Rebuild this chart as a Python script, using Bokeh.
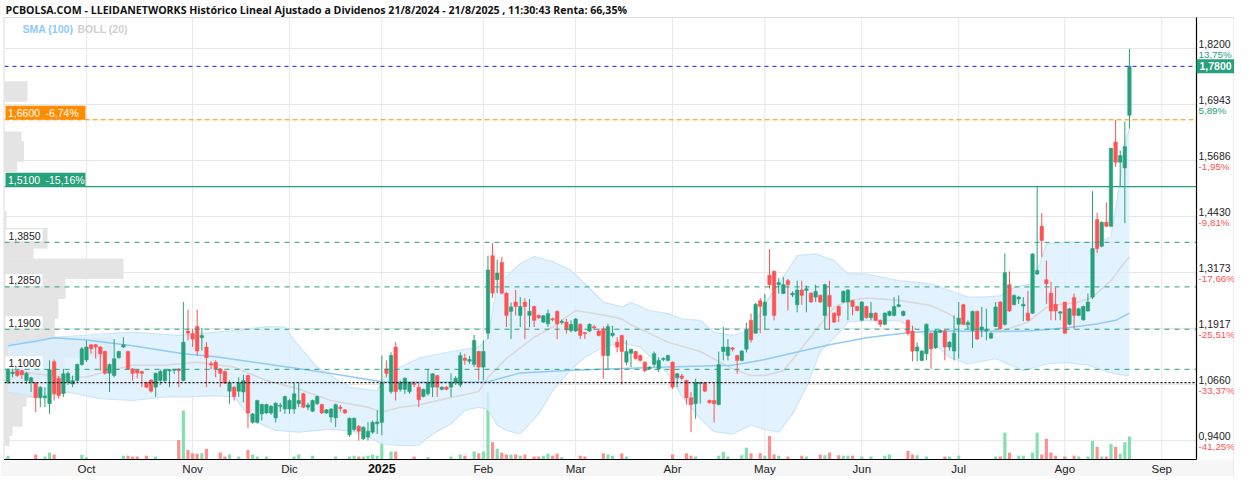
from bokeh.plotting import figure
from bokeh.models import ColumnDataSource, Range1d
from bokeh.core.properties import value
from bokeh.embed import file_html
from bokeh.resources import INLINE

# ---------------- data ----------------
opens = [
 1.071,1.090,1.097,1.097,1.075,1.071,1.070,1.036,1.036,1.023,
 1.117,1.080,1.046,1.071,1.067,1.075,1.111,1.121,1.155,1.155,
 1.150,1.140,1.091,1.086,1.126,1.150,1.140,1.101,1.098,1.095,
 1.070,1.076,1.060,1.075,1.075,1.096,1.098,1.101,1.075,1.186,
 1.180,1.196,1.171,1.150,1.112,1.116,1.101,1.095,1.051,1.060,
 1.051,1.049,1.086,0.981,0.981,1.000,1.002,1.002,0.991,1.017,
 1.011,1.011,1.011,1.023,1.045,1.015,1.006,1.023,1.021,1.002,
 0.993,0.991,1.015,1.009,0.953,0.965,0.972,0.944,0.948,0.959,
 0.978,0.981,1.101,1.050,1.150,1.055,1.055,1.050,1.068,1.060,
 1.039,1.045,1.060,1.086,1.055,1.060,1.060,1.070,1.065,1.125,
 1.118,1.111,1.140,1.105,1.181,1.355,1.301,1.340,1.271,1.230,
 1.251,1.221,1.251,1.221,1.241,1.221,1.206,1.202,1.213,1.230,
 1.205,1.206,1.187,1.186,1.201,1.181,1.186,1.195,1.186,1.191,
 1.131,1.176,1.161,1.176,1.116,1.136,1.140,1.131,1.116,1.101,
 1.111,1.101,1.122,1.120,1.116,1.081,1.085,1.075,1.036,1.023,
 1.068,1.070,1.030,1.030,1.021,1.140,1.131,1.148,1.131,1.120,
 1.145,1.210,1.181,1.254,1.221,1.311,1.320,1.290,1.270,1.299,
 1.267,1.245,1.278,1.277,1.271,1.262,1.266,1.221,1.266,1.226,
 1.241,1.251,1.251,1.254,1.241,1.210,1.241,1.216,1.226,1.210,
 1.201,1.221,1.221,1.241,1.221,1.210,1.186,1.141,1.120,1.135,
 1.181,1.148,1.183,1.186,1.150,1.141,1.201,1.245,1.200,1.187,
 1.230,1.188,1.186,1.170,1.196,1.251,1.201,1.290,1.245,1.258,
 1.242,1.226,1.226,1.314,1.421,1.301,1.271,1.246,1.226,1.251,
 1.201,1.261,1.221,1.211,1.231,1.262,1.436,1.376,1.430,1.421,
 1.610,1.565,1.552,1.670]
highs = [
 1.103,1.101,1.100,1.099,1.094,1.083,1.071,1.062,1.060,1.120,
 1.122,1.085,1.101,1.095,1.086,1.113,1.150,1.165,1.157,1.157,
 1.152,1.142,1.113,1.168,1.142,1.172,1.142,1.103,1.100,1.097,
 1.072,1.078,1.093,1.100,1.100,1.100,1.101,1.102,1.251,1.234,
 1.191,1.234,1.193,1.161,1.118,1.120,1.103,1.097,1.075,1.062,
 1.082,1.088,1.088,1.002,1.032,1.023,1.023,1.020,1.026,1.024,
 1.041,1.034,1.069,1.070,1.047,1.025,1.032,1.041,1.023,1.011,
 1.013,1.023,1.020,1.011,0.992,0.992,0.975,0.972,0.981,0.985,
 1.008,1.131,1.120,1.138,1.161,1.075,1.082,1.072,1.072,1.070,
 1.057,1.101,1.091,1.088,1.062,1.062,1.091,1.085,1.138,1.135,
 1.130,1.177,1.142,1.165,1.355,1.383,1.346,1.352,1.273,1.250,
 1.278,1.262,1.260,1.258,1.243,1.223,1.222,1.234,1.216,1.232,
 1.212,1.213,1.210,1.215,1.203,1.183,1.203,1.200,1.188,1.196,
 1.202,1.198,1.172,1.177,1.165,1.146,1.142,1.133,1.118,1.107,
 1.140,1.127,1.127,1.133,1.118,1.092,1.090,1.077,1.049,1.079,
 1.072,1.072,1.032,1.070,1.140,1.195,1.168,1.150,1.133,1.143,
 1.205,1.225,1.249,1.260,1.269,1.370,1.322,1.305,1.307,1.303,
 1.275,1.299,1.299,1.288,1.273,1.290,1.268,1.292,1.299,1.228,
 1.243,1.277,1.280,1.256,1.243,1.253,1.243,1.251,1.228,1.212,
 1.228,1.232,1.262,1.266,1.232,1.212,1.198,1.160,1.143,1.203,
 1.183,1.188,1.190,1.191,1.163,1.221,1.251,1.247,1.210,1.232,
 1.232,1.240,1.236,1.183,1.251,1.253,1.360,1.320,1.268,1.265,
 1.262,1.276,1.360,1.510,1.451,1.344,1.296,1.284,1.231,1.251,
 1.238,1.270,1.238,1.243,1.270,1.500,1.451,1.432,1.475,1.597,
 1.660,1.591,1.656,1.819]
lows = [
 1.067,1.082,1.083,1.078,1.067,1.049,1.004,1.015,1.015,1.000,
 1.030,1.035,1.038,1.065,1.060,1.072,1.108,1.116,1.135,1.124,
 1.097,1.088,1.049,1.082,1.124,1.148,1.099,1.075,1.080,1.060,
 1.058,1.048,1.038,1.065,1.070,1.060,1.090,1.060,1.073,1.165,
 1.150,1.131,1.142,1.060,1.100,1.082,1.060,1.067,1.023,1.030,
 1.038,1.026,0.968,0.978,0.978,0.985,1.000,0.998,0.981,1.005,
 1.000,1.000,1.000,1.015,1.013,1.008,1.004,1.020,1.000,1.000,
 0.981,0.970,1.005,1.000,0.948,0.961,0.940,0.942,0.940,0.955,
 0.955,0.952,1.082,1.045,1.030,1.050,1.045,1.045,1.060,1.015,
 1.037,1.041,1.038,1.038,1.053,1.053,1.038,1.065,1.060,1.110,
 1.112,1.105,1.075,1.075,1.168,1.260,1.271,1.268,1.195,1.168,
 1.221,1.195,1.168,1.195,1.195,1.213,1.204,1.195,1.208,1.168,
 1.200,1.180,1.183,1.184,1.168,1.168,1.184,1.188,1.174,1.079,
 1.101,1.172,1.138,1.066,1.109,1.105,1.122,1.118,1.094,1.099,
 1.105,1.094,1.118,1.118,1.056,1.060,1.075,1.021,0.959,0.989,
 1.023,1.049,1.023,0.981,1.019,1.120,1.120,1.140,1.090,1.118,
 1.138,1.160,1.180,1.181,1.189,1.281,1.210,1.270,1.269,1.232,
 1.262,1.228,1.245,1.228,1.249,1.251,1.249,1.189,1.189,1.204,
 1.206,1.249,1.210,1.221,1.230,1.208,1.214,1.210,1.208,1.195,
 1.199,1.219,1.219,1.239,1.219,1.176,1.118,1.118,1.118,1.120,
 1.101,1.146,1.181,1.120,1.142,1.120,1.124,1.199,1.190,1.148,
 1.166,1.172,1.165,1.168,1.195,1.189,1.198,1.229,1.244,1.247,
 1.208,1.208,1.224,1.312,1.352,1.247,1.210,1.210,1.210,1.180,
 1.199,1.191,1.219,1.209,1.229,1.258,1.361,1.374,1.419,1.419,
 1.554,1.510,1.428,1.640]
closes = [
 1.099,1.094,1.086,1.088,1.091,1.081,1.036,1.060,1.040,1.099,
 1.045,1.041,1.090,1.091,1.075,1.111,1.146,1.150,1.146,1.150,
 1.135,1.091,1.111,1.124,1.140,1.155,1.101,1.091,1.092,1.091,
 1.060,1.051,1.091,1.095,1.099,1.099,1.100,1.097,1.161,1.181,
 1.168,1.141,1.176,1.126,1.110,1.100,1.091,1.069,1.070,1.039,
 1.070,1.075,1.002,1.000,1.030,1.021,1.021,1.017,1.024,1.017,
 1.039,1.030,1.045,1.030,1.015,1.020,1.030,1.039,1.002,1.009,
 1.011,1.021,1.012,1.002,0.990,0.990,0.961,0.970,0.961,0.981,
 0.982,1.070,1.091,1.131,1.050,1.070,1.080,1.070,1.066,1.032,
 1.055,1.070,1.090,1.060,1.060,1.055,1.070,1.080,1.131,1.120,
 1.122,1.165,1.105,1.140,1.323,1.271,1.316,1.271,1.221,1.240,
 1.241,1.241,1.241,1.230,1.210,1.216,1.220,1.225,1.211,1.202,
 1.208,1.189,1.201,1.213,1.176,1.180,1.201,1.193,1.176,1.131,
 1.196,1.181,1.150,1.140,1.140,1.145,1.124,1.120,1.097,1.105,
 1.135,1.120,1.124,1.131,1.060,1.090,1.080,1.036,1.021,1.070,
 1.070,1.051,1.025,1.023,1.111,1.150,1.150,1.145,1.120,1.141,
 1.189,1.166,1.246,1.241,1.251,1.290,1.221,1.295,1.290,1.290,
 1.271,1.278,1.266,1.281,1.251,1.275,1.251,1.290,1.241,1.206,
 1.221,1.275,1.278,1.241,1.232,1.251,1.216,1.226,1.210,1.201,
 1.226,1.230,1.241,1.245,1.230,1.181,1.141,1.150,1.141,1.201,
 1.146,1.186,1.187,1.150,1.161,1.181,1.215,1.201,1.205,1.230,
 1.168,1.195,1.189,1.181,1.240,1.191,1.317,1.231,1.266,1.262,
 1.246,1.210,1.359,1.322,1.389,1.292,1.231,1.231,1.229,1.181,
 1.236,1.221,1.236,1.241,1.251,1.371,1.371,1.430,1.421,1.596,
 1.565,1.580,1.600,1.780]
volumes = [
 3.8,0,0,0,0,0,5,0,3,7,
 5,0,0,0,0,0,4.6,2.3,0,0,
 0,0,0,0,0,3.8,3.8,3,3,0,
 3.8,0,3,0,0,0,0,19.6,49,9.6,
 6.2,5.8,6.2,10.8,0,0,6.9,3,5,0,
 3,0,9.6,5,3,0,3,0,0,0,
 0,0,3,5,0,0,3.8,0,0,0,
 0,3,0,0,3,3.8,3,3,3.8,5,
 3.8,16.5,0,8,8,0,0,0,3,0,
 0,2.3,0,0,0,0,3,0,5,3.8,
 0,8,6.2,8,67,17.3,10.8,6.9,5,5,
 5,3.8,5,0,3,3,3.8,5.8,3.8,5.8,
 2.3,0,0,0,3.8,3,0,0,0,6.2,
 5,3.8,0,6.2,3,0,0,0,0,0,
 0,0,0,0,5,0,0,6.2,3.8,3,
 0,0,0,0,3.8,7.7,3,0,0,4.2,
 11.9,6.2,0,6.2,3.8,23.5,5,3.8,0,3,
 0,0,3.8,3,0,0,5,4.2,6.9,0,
 4.2,3.8,3.8,3.8,0,3,0,3,0,0,
 3.8,5,0,0,0,8.5,5,4.2,0,3,
 0,0,0,3,3,0,3.8,0,0,0,
 0,0,0,0,3,3,26.9,6.9,0,3.8,
 3.8,0,6.9,26.9,5,20.8,6.9,3.8,0,3,
 0,3.8,3,0,3,18.5,12.7,3,3,15.4,
 12.7,5.8,17.3,23]

# SMA(100) and Bollinger(20) read at points along the lines
sma_idx = [0, 6, 10, 17, 27, 38, 45, 56, 68, 81, 92, 104, 111, 122, 133, 143, 157, 164,
           171, 178, 186, 193, 200, 214, 221, 229, 236, 240, 243]
sma_val = [1.153, 1.163, 1.171, 1.166, 1.153, 1.135, 1.128, 1.112, 1.094, 1.072, 1.071,
           1.072, 1.092, 1.098, 1.102, 1.105, 1.109, 1.122, 1.139, 1.155, 1.171, 1.180,
           1.186, 1.185, 1.186, 1.193, 1.202, 1.210, 1.226]
bb_up_idx = [0, 10, 22, 27, 37, 49, 56, 60, 62, 67, 74, 80, 82, 89, 96, 102, 104, 106, 111,
             114, 118, 122, 125, 129, 133, 135, 139, 143, 146, 150, 153, 157, 161, 164, 168,
             171, 175, 179, 182, 186, 193, 197, 200, 204, 208, 211, 215, 218, 222, 223, 225,
             229, 236, 239, 241, 242, 243]
bb_up_val = [1.157, 1.172, 1.180, 1.183, 1.176, 1.187, 1.196, 1.195, 1.165, 1.105, 1.060,
             1.052, 1.090, 1.125, 1.140, 1.150, 1.170, 1.290, 1.337, 1.353, 1.342, 1.322,
             1.292, 1.251, 1.240, 1.250, 1.232, 1.225, 1.213, 1.210, 1.183, 1.176, 1.187,
             1.247, 1.307, 1.355, 1.359, 1.344, 1.314, 1.314, 1.299, 1.295, 1.292, 1.277,
             1.262, 1.262, 1.265, 1.284, 1.292, 1.318, 1.382, 1.385, 1.385, 1.397, 1.524,
             1.606, 1.640]
bb_lo_idx = [0, 6, 13, 20, 27, 34, 39, 45, 49, 53, 58, 63, 70, 75, 78, 81, 85, 89, 92, 96,
             99, 102, 104, 106, 108, 111, 115, 118, 122, 125, 129, 133, 137, 140, 143, 146,
             150, 153, 157, 161, 164, 167, 170, 173, 176, 179, 182, 186, 193, 197, 200, 204,
             208, 214, 220, 225, 229, 234, 238, 241, 243]
bb_lo_val = [1.049, 1.038, 1.049, 1.034, 1.030, 1.038, 1.038, 1.041, 1.038, 0.985, 0.963,
             0.959, 0.966, 0.960, 0.948, 0.933, 0.929, 0.930, 0.955, 0.978, 1.008, 1.015,
             1.010, 0.975, 0.963, 0.955, 1.000, 1.052, 1.100, 1.127, 1.150, 1.160, 1.150,
             1.120, 1.090, 1.040, 0.990, 0.960, 0.955, 0.975, 0.965, 0.959, 1.000, 1.060,
             1.140, 1.170, 1.206, 1.210, 1.209, 1.190, 1.165, 1.127, 1.112, 1.124, 1.097,
             1.112, 1.115, 1.110, 1.095, 1.088, 1.086]
bb_mid_idx = [0, 6, 13, 17, 22, 27, 34, 41, 49, 56, 63, 70, 78, 81, 85, 89, 96, 102, 104,
              108, 114, 118, 123, 129, 133, 135, 143, 150, 157, 161, 164, 168, 171, 175, 179,
              182, 186, 193, 200, 204, 208, 211, 215, 221, 225, 229, 232, 235, 239, 242, 243]
bb_mid_val = [1.100, 1.090, 1.082, 1.083, 1.097, 1.109, 1.109, 1.116, 1.105, 1.075, 1.056,
              1.030, 1.015, 1.004, 1.015, 1.020, 1.037, 1.050, 1.082, 1.124, 1.172, 1.195,
              1.232, 1.222, 1.213, 1.200, 1.161, 1.140, 1.101, 1.086, 1.086, 1.097, 1.135,
              1.187, 1.239, 1.254, 1.260, 1.255, 1.243, 1.224, 1.195, 1.190, 1.185, 1.206,
              1.239, 1.247, 1.251, 1.262, 1.299, 1.341, 1.352]

# volume-at-price profile (left side)
prof_price = [1.7235, 1.611, 1.589, 1.566, 1.432, 1.394, 1.371, 1.326, 1.302, 1.281, 1.259,
              1.237, 1.214, 1.192, 1.169, 1.149, 1.127, 1.104, 1.082, 1.059, 1.039, 1.017,
              0.994, 0.974, 0.951]
prof_vol = [23, 17, 19.5, 12.7, 2, 43, 29, 119, 40, 61, 42, 54, 50, 50, 50, 108, 35, 60,
            28, 35, 22, 12, 18, 8, 5]

month_idx = [17, 40, 61, 81, 103, 123, 144, 164, 185, 206, 229, 250]
month_lbl = ["Oct", "Nov", "Dic", "2025", "Feb", "Mar", "Abr", "May", "Jun", "Jul", "Ago", "Sep"]

ytick_vals = [1.8200, 1.6943, 1.5686, 1.4430, 1.3173, 1.1917, 1.0660, 0.9400]
ytick_lbl = ["1,8200", "1,6943", "1,5686", "1,4430", "1,3173", "1,1917", "1,0660", "0,9400"]
ytick_pct = ["13,75%", "5,89%", "-1,95%", "-9,81%", "-17,66%", "-25,51%", "-33,37%", "-41,25%"]

support_vals = [1.385, 1.285, 1.19, 1.10]
support_lbl = ["1,3850", "1,2850", "1,1900", "1,1000"]
last_price, last_lbl = 1.78, "1,7800"
orange_level, orange_lbl, orange_pct = 1.66, "1,6600", "-6,74%"
green_level, green_lbl, green_pct = 1.51, "1,5100", "-15,16%"
start_level = 1.07

title_txt = ("PCBOLSA.COM - LLEIDANETWORKS Histórico Lineal Ajustado a Dividenos "
             "21/8/2024 - 21/8/2025 , 11:30:43 Renta: 66,35%")

# ---------------- layout / styling ----------------
GREEN = "#26a17b"
RED = "#ff5252"
VGREEN = "#82dfb0"
VRED = "#ff8f8f"
ORANGE = "#ff8c00"
FONT = "Liberation Sans"
W, H = 1234, 476
K = 4.615        # pixels per trading day
XOFF = 7.5       # pixel x of first candle
PY = 445.6       # pixels per price unit


def ix(px):      # canvas pixel x -> index coordinate
    return (px - XOFF) / K


def py(px):      # canvas pixel y (from top) -> price coordinate
    return 1.82 + (48 - px) / PY


CH_L, CH_R = ix(4), ix(1196)
CH_T, CH_B = py(17), py(459)

p = figure(width=W, height=H, output_backend="svg", toolbar_location=None,
           x_range=Range1d(ix(0), ix(W)), y_range=Range1d(py(H), py(0)),
           x_axis_location=None, y_axis_location=None, min_border=0)
p.min_border_left = p.min_border_right = p.min_border_top = p.min_border_bottom = 0
p.outline_line_color = None
p.background_fill_color = "white"
p.border_fill_color = "white"
p.extra_y_ranges = {"vol": Range1d(-(H - 459), 459)}
p.grid.visible = False

# bottom label band
p.quad(left=[ix(0)], right=[ix(W)], bottom=[py(H)], top=[CH_B], fill_color="#f6f6f6",
       line_color=None)

# grid lines
p.segment(x0=[CH_L] * len(ytick_vals), x1=[CH_R] * len(ytick_vals), y0=ytick_vals, y1=ytick_vals,
          line_color="#e7e7e7", line_width=1)
p.segment(x0=month_idx, x1=month_idx, y0=[CH_B] * len(month_idx), y1=[CH_T] * len(month_idx),
          line_color="#e7e7e7", line_width=1)

# volume profile
prof_src = ColumnDataSource(dict(y=prof_price, right=[CH_L + v / K for v in prof_vol]))
p.hbar(y="y", left=CH_L, right="right", height=20.5 / PY, source=prof_src,
       fill_color="#e4e4e4", line_color=None)

# candles + volume
n = len(opens)
idx = list(range(n))
is_up = [c >= o for o, c in zip(opens, closes)]
bot = [min(o, c) for o, c in zip(opens, closes)]
top = [max(max(o, c), b + 0.0025) for o, c, b in zip(opens, closes, bot)]
src = ColumnDataSource(dict(
    x=idx, h=highs, l=lows, top=top, bot=bot, vol=volumes,
    col=[GREEN if u else RED for u in is_up],
    vcol=[VGREEN if u else VRED for u in is_up]))
p.vbar(x="x", width=0.68, top="vol", bottom=0, y_range_name="vol", source=src,
       fill_color="vcol", line_color=None)

# Bollinger band + SMA
band_x = bb_up_idx + bb_lo_idx[::-1]
band_y = bb_up_val + bb_lo_val[::-1]
p.patch(band_x, band_y, fill_color="#dcefff", fill_alpha=0.8, line_color=None)
p.line(bb_up_idx, bb_up_val, line_color="#cde5f8", line_width=1.2)
p.line(bb_lo_idx, bb_lo_val, line_color="#cde5f8", line_width=1.2)
p.line(bb_mid_idx, bb_mid_val, line_color="#d8d8d8", line_width=1.5)
p.line(sma_idx, sma_val, line_color="#90caf9", line_width=1.5)

p.segment(x0="x", y0="h", x1="x", y1="l", source=src, line_color="col", line_width=1)
p.vbar(x="x", width=0.76, top="top", bottom="bot", source=src, fill_color="col", line_color="col",
       line_width=0.5)

# reference lines
p.line([CH_L, CH_R], [last_price] * 2, line_color="#1a1aff", line_dash="4 4", line_width=1)
p.line([CH_L, CH_R], [orange_level] * 2, line_color=ORANGE, line_dash="5 3", line_width=1)
p.line([CH_L, CH_R], [green_level] * 2, line_color=GREEN, line_width=1.3)
for v in support_vals:
    p.line([CH_L, CH_R], [v, v], line_color=GREEN, line_dash="5 5", line_width=1)
p.line([CH_L, CH_R], [start_level] * 2, line_color="black", line_dash="2 2", line_width=1.2)

# frame: light top/left/right border, black right/bottom axis lines
p.line([ix(3.5), ix(W)], [CH_T, CH_T], line_color="#dddddd", line_width=1)
p.line([ix(3.5), ix(3.5)], [CH_B, CH_T], line_color="#dddddd", line_width=1)
p.line([ix(W - 0.5), ix(W - 0.5)], [py(H), CH_T], line_color="#dddddd", line_width=1)
p.line([CH_R, CH_R], [CH_B, CH_T], line_color="black", line_width=1.2)
p.line([ix(3.5), CH_R], [CH_B, CH_B], line_color="black", line_width=1.2)

LTXT = dict(text_font=value(FONT), text_font_size=value("10.5px"))

# left labels on the support lines
p.quad(left=[ix(5)] * 4, right=[ix(42)] * 4, bottom=[v + 1 / PY for v in support_vals],
       top=[v + 13 / PY for v in support_vals], fill_color="white", line_color=None)
p.text(x=[ix(8)] * 4, y=[v + 6.5 / PY for v in support_vals], text=support_lbl,
       text_baseline="middle", text_color="#222222", **LTXT)
for v, t1, t2, c in [(orange_level, orange_lbl, orange_pct, ORANGE),
                     (green_level, green_lbl, green_pct, GREEN)]:
    p.quad(left=[ix(5)], right=[ix(85)], bottom=[v], top=[v + 14 / PY], fill_color=c, line_color=None)
    p.text(x=[ix(7.5)], y=[v + 7 / PY], text=[t1], text_baseline="middle", text_color="white", **LTXT)
    p.text(x=[ix(45)], y=[v + 7 / PY], text=[t2], text_baseline="middle", text_color="white", **LTXT)

# right axis labels
p.text(x=[ix(1198)] * len(ytick_vals), y=[v + 0.5 / PY for v in ytick_vals], text=ytick_lbl,
       text_baseline="bottom", text_color="#222222",
       text_font=value(FONT), text_font_size=value("10.5px"))
p.text(x=[ix(1198)] * len(ytick_vals), y=[v - 0.5 / PY for v in ytick_vals], text=ytick_pct,
       text_baseline="top", text_color=[GREEN if s[0] != "-" else RED for s in ytick_pct],
       text_font=value(FONT), text_font_size=value("9.8px"))
p.quad(left=[CH_R], right=[ix(1234)], bottom=[last_price - 7 / PY], top=[last_price + 7 / PY],
       fill_color=GREEN, line_color=None)
p.text(x=[ix(1199)], y=[last_price], text=[last_lbl], text_baseline="middle", text_color="white",
       text_font_style="bold", text_font=value(FONT), text_font_size=value("10.5px"))

# month labels
reg = [i for i, m in enumerate(month_lbl) if m != "2025"]
p.text(x=[month_idx[i] for i in reg], y=[py(468)] * len(reg), text=[month_lbl[i] for i in reg],
       text_align="center", text_baseline="middle", text_color="#222222",
       text_font=value(FONT), text_font_size=value("11.5px"))
p.text(x=[month_idx[3]], y=[py(468)], text=[month_lbl[3]], text_align="center",
       text_baseline="middle", text_color="#111111", text_font_style="bold",
       text_font=value(FONT), text_font_size=value("12.5px"))

# title and legend
p.text(x=[ix(5)], y=[py(9)], text=[title_txt], text_baseline="middle", text_color="#111111",
       text_font_style="bold", text_font=value("Open Sans"), text_font_size=value("10.6px"))
p.text(x=[ix(22)], y=[py(28)], text=["SMA (100)"], text_baseline="middle", text_color="#90caf9",
       text_font_style="bold", text_font=value(FONT), text_font_size=value("10.5px"))
p.text(x=[ix(77)], y=[py(28)], text=["BOLL (20)"], text_baseline="middle", text_color="#cfcfcf",
       text_font_style="bold", text_font=value(FONT), text_font_size=value("10.5px"))

open("out.html", "w").write(file_html(p, INLINE))
